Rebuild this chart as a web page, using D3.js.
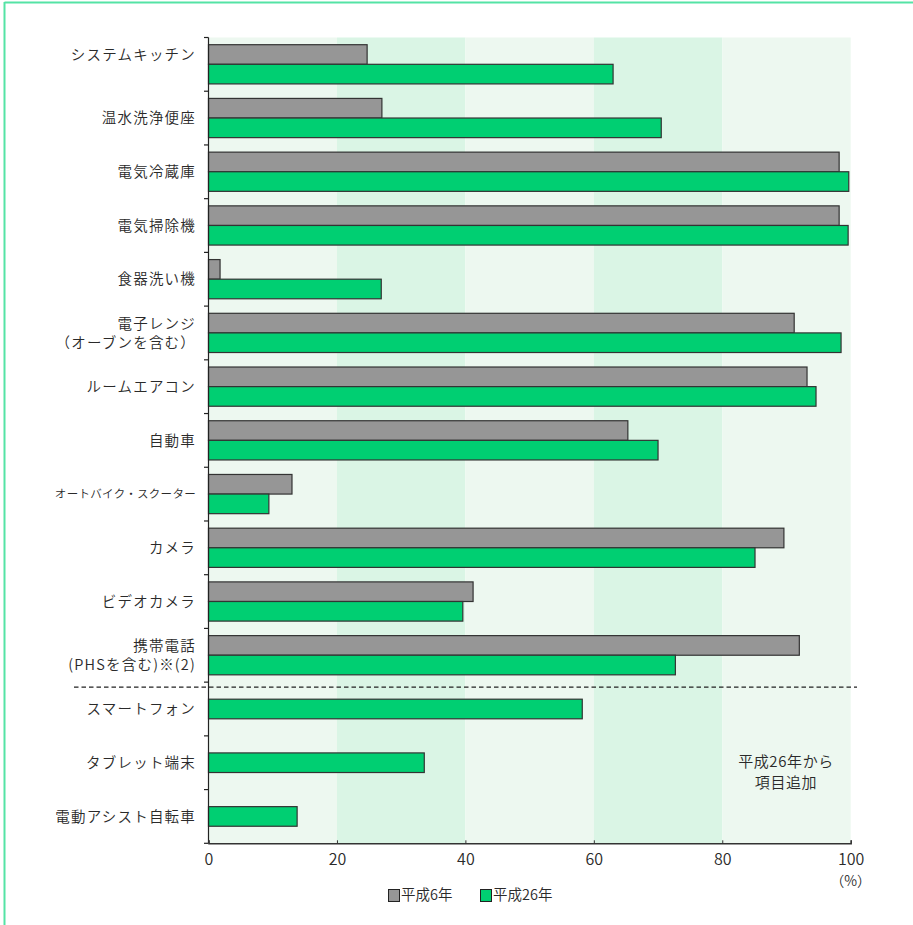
<!DOCTYPE html>
<html>
<head>
<meta charset="utf-8">
<script src="https://cdn.jsdelivr.net/npm/d3@7"></script>
<style>
  html, body { margin: 0; padding: 0; background: #fff; }
  svg { display: block; font-family: "Noto Sans CJK JP", "Noto Sans", sans-serif; font-weight: 350; }
</style>
</head>
<body>
<svg id="chart" width="913" height="925"></svg>
<script>
// ---- data ----
const categories = [
  "システムキッチン",
  "温水洗浄便座",
  "電気冷蔵庫",
  "電気掃除機",
  "食器洗い機",
  "電子レンジ\n（オーブンを含む）",
  "ルームエアコン",
  "自動車",
  "オートバイク・スクーター",
  "カメラ",
  "ビデオカメラ",
  "携帯電話\n(PHSを含む)※(2)",
  "スマートフォン",
  "タブレット端末",
  "電動アシスト自転車"
];
const seriesNames = ["平成6年", "平成26年"];
const valuesH6 = [24.7, 27.0, 98.2, 98.2, 1.8, 91.2, 93.2, 65.3, 13.0, 89.6, 41.2, 92.0, null, null, null];
const valuesH26 = [63.0, 70.5, 99.7, 99.6, 26.9, 98.5, 94.6, 70.0, 9.4, 85.1, 39.6, 72.7, 58.2, 33.6, 13.8];
const xTicks = [0, 20, 40, 60, 80, 100];
const xUnit = "（%）";
const addedNote = ["平成26年から", "項目追加"];
const smallLabels = ["オートバイク・スクーター"];

// ---- layout ----
const svg = d3.select("#chart");
const plot = { left: 208.5, right: 850.7, top: 37.5, bottom: 843.3 };
const colors = { gray: "#969696", green: "#00cf72", stroke: "#333", stripeA: "#edf8f0", stripeB: "#daf5e5", text: "#2a2a2a" };

// frame lines (left / top)
svg.append("line").attr("x1", 4.5).attr("x2", 913).attr("y1", 2.5).attr("y2", 2.5)
  .attr("stroke", "#55e3a5").attr("stroke-width", 2);
svg.append("line").attr("x1", 4.5).attr("x2", 4.5).attr("y1", 2).attr("y2", 925)
  .attr("stroke", "#55e3a5").attr("stroke-width", 2);

const x = d3.scaleLinear().domain([0, 100]).range([plot.left, plot.right]);
const y = d3.scaleBand().domain(categories).range([plot.top, plot.bottom]).paddingInner(0).paddingOuter(0);
const bw = y.bandwidth();
const barH = bw * 0.365;
const groupOff = bw * 0.134;

// background stripes
const stripes = d3.pairs(xTicks);
svg.append("g").selectAll("rect").data(stripes).join("rect")
  .attr("x", d => x(d[0])).attr("width", d => x(d[1]) - x(d[0]))
  .attr("y", plot.top).attr("height", plot.bottom - plot.top)
  .attr("fill", (d, i) => i % 2 ? colors.stripeB : colors.stripeA);

// bars
const gBars = svg.append("g");
categories.forEach((c, i) => {
  const top = y(c);
  const v1 = valuesH6[i], v2 = valuesH26[i];
  if (v1 != null) {
    gBars.append("rect").attr("x", x(0)).attr("y", top + groupOff)
      .attr("width", x(v1) - x(0)).attr("height", barH)
      .attr("fill", colors.gray).attr("stroke", colors.stroke).attr("stroke-width", 1.2);
    gBars.append("rect").attr("x", x(0)).attr("y", top + groupOff + barH)
      .attr("width", x(v2) - x(0)).attr("height", barH)
      .attr("fill", colors.green).attr("stroke", colors.stroke).attr("stroke-width", 1.2);
  } else {
    gBars.append("rect").attr("x", x(0)).attr("y", top + (bw - barH) / 2)
      .attr("width", x(v2) - x(0)).attr("height", barH)
      .attr("fill", colors.green).attr("stroke", colors.stroke).attr("stroke-width", 1.2);
  }
});

// y axis line and ticks at band boundaries
const bounds = categories.map(c => y(c)).concat([plot.bottom]);
svg.append("line").attr("x1", plot.left).attr("x2", plot.left).attr("y1", plot.top).attr("y2", plot.bottom)
  .attr("stroke", "#222").attr("stroke-width", 1.2);
svg.append("g").selectAll("line").data(bounds).join("line")
  .attr("x1", plot.left - 4.5).attr("x2", plot.left).attr("y1", d => d).attr("y2", d => d)
  .attr("stroke", "#222").attr("stroke-width", 1.2);

// x axis
const xAxis = d3.axisBottom(x).tickValues(xTicks).tickSize(-3).tickPadding(10).tickFormat(d3.format("d"));
const gx = svg.append("g").attr("transform", `translate(0,${plot.bottom})`).call(xAxis);
gx.select(".domain").attr("stroke", "#333").attr("stroke-width", 1.5);
gx.selectAll(".tick line").attr("stroke", "#333");
gx.selectAll("text").attr("font-size", 16).attr("fill", colors.text)
  .attr("font-family", "'Noto Sans CJK JP', sans-serif").attr("font-weight", 350);
svg.append("text").attr("x", x(100)).attr("y", 886).attr("text-anchor", "middle")
  .attr("font-size", 14).attr("fill", colors.text).text(xUnit);

// category labels
const gL = svg.append("g");
categories.forEach((c, i) => {
  const lines = c.split("\n");
  const small = smallLabels.includes(c);
  const fs = small ? 11.5 : 14.5;
  const cy = i === 0 ? y(c) + groupOff + barH / 2 : y(c) + bw / 2;
  const lh = 19;
  const t = gL.append("text").attr("text-anchor", "end").attr("font-size", fs)
    .attr("letter-spacing", small ? 0.3 : 1.2).attr("fill", colors.text);
  lines.forEach((ln, k) => {
    t.append("tspan").attr("x", 196).attr("y", cy + (k - (lines.length - 1) / 2) * lh)
      .attr("dy", "0.36em").text(ln);
  });
});

// dashed separator
const sepY = y(categories[12]) + 5;
svg.append("line").attr("x1", 74).attr("x2", 857).attr("y1", sepY).attr("y2", sepY)
  .attr("stroke", "#222").attr("stroke-width", 1.2).attr("stroke-dasharray", "4.5,3");

// annotation
const noteT = svg.append("text").attr("text-anchor", "middle").attr("font-size", 15)
  .attr("letter-spacing", 0.6).attr("fill", colors.text);
addedNote.forEach((ln, k) => {
  noteT.append("tspan").attr("x", 786).attr("y", 762 + k * 21).attr("dy", "0.36em").text(ln);
});

// legend
const legend = svg.append("g").attr("transform", "translate(388,895)");
const legendItems = [
  { name: seriesNames[0], color: colors.gray, dx: 0 },
  { name: seriesNames[1], color: colors.green, dx: 92 }
];
legendItems.forEach(d => {
  legend.append("rect").attr("x", d.dx + 0.5).attr("y", -5.5).attr("width", 11).attr("height", 12)
    .attr("fill", d.color).attr("stroke", "#222").attr("stroke-width", 1);
  legend.append("text").attr("x", d.dx + 13).attr("y", 0).attr("dy", "0.36em")
    .attr("font-size", 14.5).attr("fill", colors.text).text(d.name);
});
</script>
</body>
</html>
